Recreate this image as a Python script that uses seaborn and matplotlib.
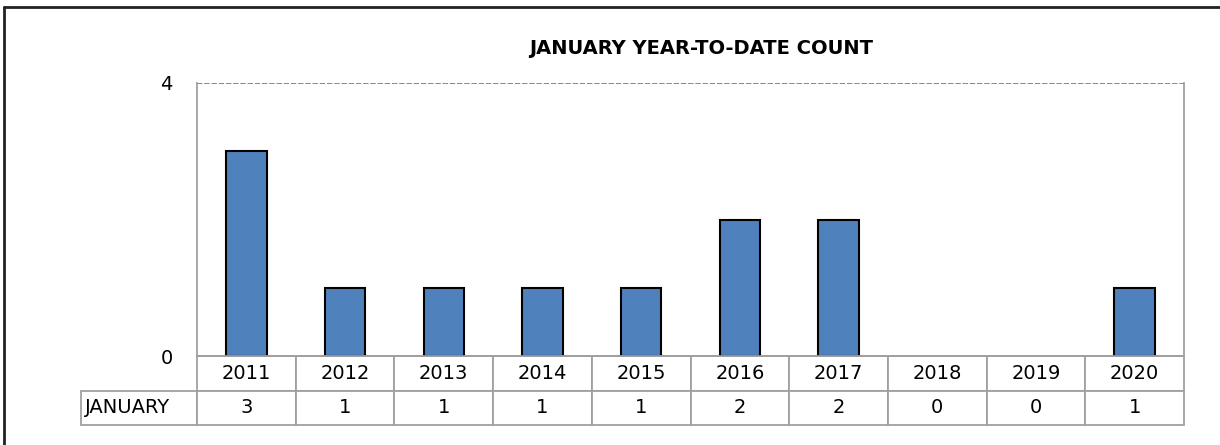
import seaborn as sns
import matplotlib
matplotlib.use('Agg')
from matplotlib import pyplot as plt
from matplotlib.table import Table
from matplotlib.lines import Line2D
import pandas as pd

years = ['2011', '2012', '2013', '2014', '2015', '2016', '2017', '2018', '2019', '2020']
counts = [3, 1, 1, 1, 1, 2, 2, 0, 0, 1]
row_label = 'JANUARY'
title = 'JANUARY YEAR-TO-DATE COUNT'

sns.set_style('white')
plt.rcParams['font.family'] = ['DejaVu Sans']
plt.rcParams['text.color'] = 'black'
plt.rcParams['ytick.color'] = 'black'

df = pd.DataFrame({'year': years, 'count': counts})

fig = plt.figure(figsize=(12.2, 4.45), dpi=100)
# axes placed to match plot area in pixels
ax = fig.add_axes([197 / 1220, 89 / 445, 987 / 1220, 273 / 445])

sns.barplot(data=df, x='year', y='count', color='#4F81BD', saturation=1,
            width=0.41, edgecolor='black', linewidth=1.5, ax=ax)
# zero-height bars leave no mark
for p in ax.patches:
    if p.get_height() == 0:
        p.set_visible(False)

ax.set_ylim(0, 4)
ax.set_yticks([0, 4])
ax.set_xlabel('')
ax.set_ylabel('')
ax.tick_params(axis='x', bottom=False, labelbottom=False)
ax.tick_params(axis='y', left=False, pad=14, labelsize=14)

# gridline at the top value, dashed
ax.axhline(4, color='#808080', lw=1.3, ls=(0, (3, 1)), zorder=0)
ax.spines['top'].set_visible(False)
for s in ['left', 'right', 'bottom']:
    ax.spines[s].set_color('#A0A0A0')
    ax.spines[s].set_linewidth(1.3)

# data table below the axis (bbox covers the data grid only)
label_w = 116 / 987
tab_h = 69 / 273
tab = Table(ax, bbox=[0, -tab_h, 1, tab_h])
cw, ch = 1 / len(years), tab_h / 2
for j, (yr, v) in enumerate(zip(years, counts)):
    tab.add_cell(0, j, width=cw, height=ch, text=yr, loc='center', edgecolor='#A0A0A0')
    tab.add_cell(1, j, width=cw, height=ch, text=str(v), loc='center', edgecolor='#A0A0A0')
tab.add_cell(1, -1, width=label_w, height=ch, text=row_label, loc='left', edgecolor='#A0A0A0')
tab.auto_set_font_size(False)
tab.set_fontsize(14)
for cell in tab.get_celld().values():
    cell.set_linewidth(1.3)
    cell.PAD = 0.03
    cell.get_text().set_color('black')
ax.add_table(tab)

fig.text(701 / 1220, 1 - 48 / 445, title, ha='center', va='center',
         fontsize=14, fontweight='bold')

# outer chart frame (only top and left visible)
fig.add_artist(Line2D([4 / 1220, 4 / 1220], [0, 1 - 7 / 445], transform=fig.transFigure,
                      color='#222222', lw=2))
fig.add_artist(Line2D([4 / 1220, 1], [1 - 7 / 445, 1 - 7 / 445], transform=fig.transFigure,
                      color='#222222', lw=2))

fig.savefig('out.png', dpi=100)
